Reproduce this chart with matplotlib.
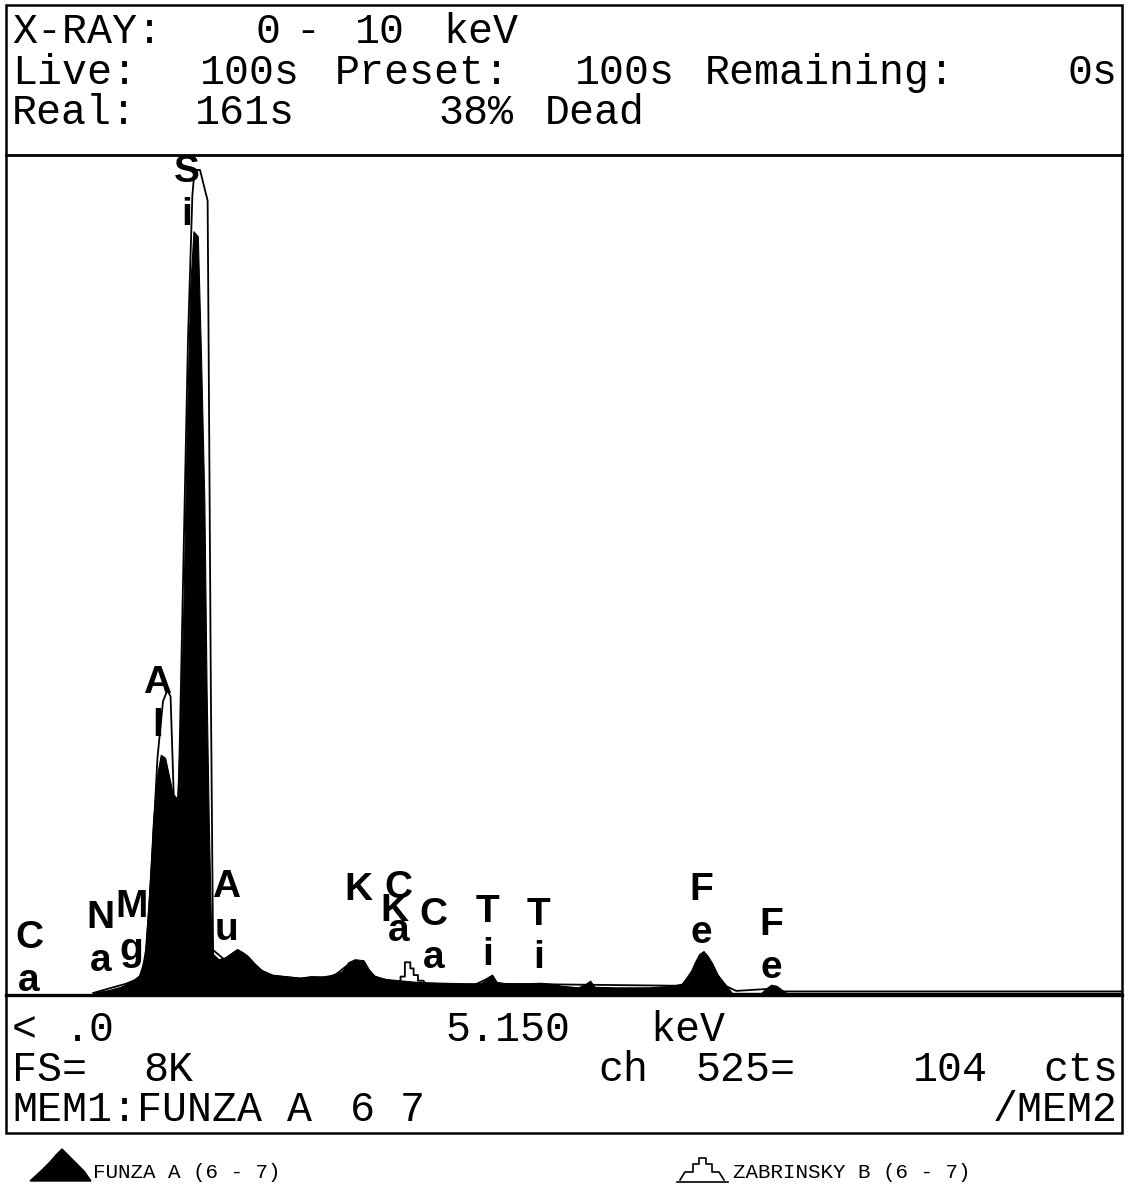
import matplotlib
matplotlib.use("Agg")
import matplotlib.pyplot as plt
from matplotlib.patches import Rectangle, Polygon
from matplotlib.transforms import offset_copy

# spectrum 1 (filled): FUNZA A, energy in keV and counts
funza_kev = [0.80, 0.95, 1.05, 1.15, 1.22, 1.27, 1.31, 1.35, 1.39, 1.42, 1.46, 1.50,
             1.53, 1.57, 1.60, 1.63, 1.66, 1.69, 1.72, 1.76, 1.79, 1.82, 1.84, 1.86,
             1.88, 1.90, 1.95, 2.02, 2.08, 2.12, 2.17, 2.22, 2.28, 2.35, 2.42, 2.50,
             2.60, 2.70, 2.80, 2.90, 2.98, 3.08, 3.14, 3.20, 3.28, 3.33, 3.38, 3.45,
             3.55, 3.65, 3.75, 3.85, 4.00, 4.20, 4.36, 4.42, 4.46, 4.50, 4.60, 4.80,
             4.90, 5.00, 5.10, 5.25, 5.32, 5.36, 5.40, 5.60, 5.90, 6.10, 6.20, 6.26,
             6.32, 6.36, 6.40, 6.44, 6.48, 6.53, 6.58, 6.62, 6.66, 6.93, 6.97, 7.02,
             7.07, 7.12, 7.16, 10.24]
funza_cts = [0, 30, 60, 110, 170, 330, 900, 1700, 2150, 2330, 2300, 2100,
             1950, 1900, 2600, 3900, 5600, 6900, 7450, 7400, 6200, 4800, 3000, 1700,
             700, 380, 330, 350, 400, 430, 400, 360, 290, 220, 180, 170,
             160, 150, 165, 160, 175, 210, 300, 330, 320, 230, 170, 140,
             130, 120, 110, 105, 100, 95, 95, 150, 180, 110, 90, 95,
             100, 90, 70, 55, 90, 120, 60, 55, 55, 70, 90, 150,
             300, 380, 410, 360, 290, 180, 110, 60, 0, 0, 40, 80,
             70, 30, 0, 0]

# spectrum 2 (outline): ZABRINSKY B
zab_kev = [0.80, 1.10, 1.24, 1.29, 1.34, 1.39, 1.44, 1.48, 1.51, 1.54, 1.58, 1.62,
           1.67, 1.71, 1.73, 1.78, 1.85, 1.86, 1.88, 1.90, 2.00, 2.10, 2.20, 2.30,
           2.45, 2.70, 3.00, 3.12, 3.20, 3.30, 3.38, 3.55, 3.60, 3.62, 3.62, 3.66,
           3.66, 3.71, 3.71, 3.74, 3.74, 3.78, 3.78, 3.83, 3.85, 4.30, 4.40, 4.45,
           4.50, 6.20, 6.32, 6.40, 6.50, 6.58, 6.70, 7.00, 7.10, 10.24]
zab_cts = [0, 90, 150, 450, 1300, 2300, 2850, 2960, 2900, 1900, 1700, 3800,
           6400, 7800, 8050, 8050, 7750, 6200, 2900, 420, 330, 400, 370, 240,
           170, 140, 160, 260, 290, 250, 160, 110, 110, 110, 160, 160,
           300, 300, 240, 240, 175, 175, 120, 120, 90, 80, 130, 160,
           90, 70, 250, 330, 220, 80, 20, 40, 15, 15]

# peak markers
label_text = ["Ca", "Na", "Mg", "Al", "Si", "Au", "K", "Ca", "K", "Ca", "Ti", "Ti", "Fe", "Fe"]
label_kev = [0.21, 0.87, 1.15, 1.39, 1.66, 2.02, 3.23, 3.60, 3.56, 3.92, 4.42, 4.89, 6.38, 7.02]
label_cts = [538, 733, 841, 3032, 8030, 1037, 1007, 1030, 800, 763, 792, 763, 1007, 665]

W, H = 1132, 1187
fig = plt.figure(figsize=(W / 100, H / 100), dpi=100)
fig.patch.set_facecolor("white")

# background axes in pixel units for frame and readout text
bg = fig.add_axes([0, 0, 1, 1])
bg.set_xlim(0, W)
bg.set_ylim(H, 0)
bg.axis("off")

bg.add_patch(Rectangle((6, 5), 1116, 1128, fill=False, lw=1.8, ec="black"))
bg.plot([6, 1122], [155, 155], color="black", lw=2.0)
bg.plot([6, 1122], [995, 995], color="black", lw=2.4)

mono = "Liberation Mono"
header = [("X-RAY:", 12, 32), ("0", 255, 32), ("-", 295, 32), ("10", 355, 32), ("keV", 443, 32),
          ("Live:", 12, 73), ("100s", 200, 73), ("Preset:", 335, 73), ("100s", 575, 73),
          ("Remaining:", 705, 73), ("0s", 1068, 73),
          ("Real:", 12, 113), ("161s", 195, 113), ("38%", 438, 113), ("Dead", 545, 113),
          ("<", 12, 1030), (".0", 65, 1030), ("5.150", 445, 1030), ("keV", 650, 1030),
          ("FS=", 12, 1070), ("8K", 143, 1070), ("ch", 598, 1070), ("525=", 695, 1070),
          ("104", 913, 1070), ("cts", 1043, 1070),
          ("MEM1:FUNZA", 12, 1110), ("A", 287, 1110), ("6", 350, 1110), ("7", 400, 1110)]
for txt, x, y in header:
    bg.text(x, y, txt, family=mono, fontsize=30, ha="left", va="center")
bg.text(1118, 1110, "/MEM2", family=mono, fontsize=30, ha="right", va="center")

# legend glyphs
bg.add_patch(Polygon([(30, 1181), (42, 1170), (50, 1162), (56, 1155), (62, 1149), (68, 1155),
                      (76, 1163), (84, 1171), (91, 1181)], closed=True, fc="black", ec="black"))
bg.text(93, 1173, "FUNZA A (6 - 7)", family="Liberation Mono", fontsize=15, ha="left", va="center")
bg.plot([677, 728], [1182, 1182], color="black", lw=1.2)
bg.plot([680, 685, 693, 693, 699, 699, 706, 706, 712, 712, 719, 724],
        [1180, 1172, 1172, 1164, 1164, 1158, 1158, 1164, 1164, 1172, 1172, 1180],
        color="black", lw=1.2)
bg.text(733, 1173, "ZABRINSKY B (6 - 7)", family="Liberation Mono", fontsize=15, ha="left", va="center")

# spectrum axes
ax = fig.add_axes([6 / W, (H - 995) / H, 1116 / W, 840 / H])
ax.patch.set_alpha(0)
ax.set_xlim(0, 10.24)
ax.set_ylim(-20, 8196)
ax.axis("off")

ax.fill_between(funza_kev, funza_cts, 0, color="black", lw=0.8, zorder=2)
ax.plot(zab_kev, zab_cts, color="black", lw=1.3, zorder=3)

low = offset_copy(ax.transData, fig=fig, x=0, y=-31, units="points")
for name, e, c in zip(label_text, label_kev, label_cts):
    ax.text(e, c, name[0], family="Liberation Sans", fontsize=28, fontweight="bold",
            ha="center", va="center", zorder=4)
    if len(name) > 1:
        ax.text(e, c, name[1], family="Liberation Sans", fontsize=28, fontweight="bold",
                ha="center", va="center", transform=low, zorder=4)

fig.savefig("out.png", dpi=100)
